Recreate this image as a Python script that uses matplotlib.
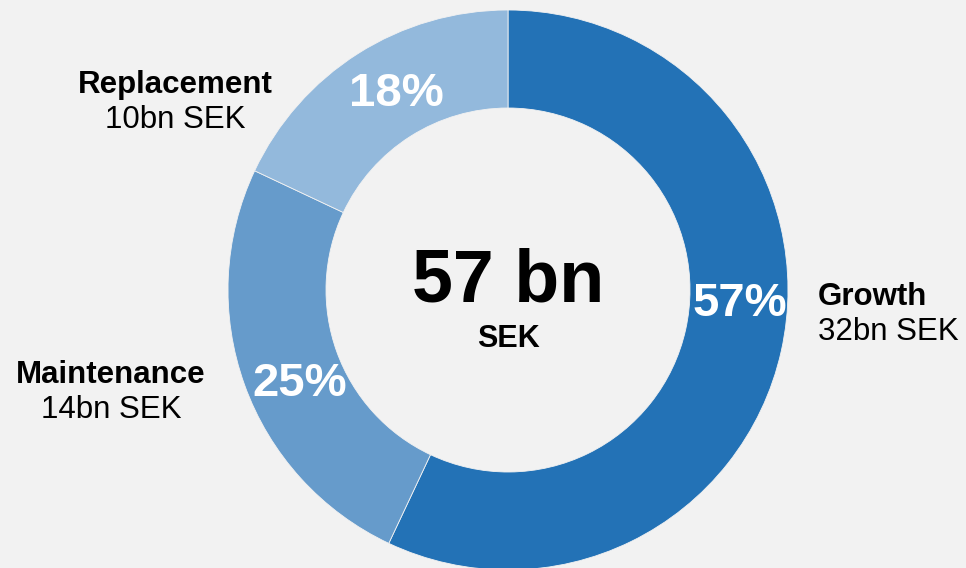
import matplotlib.pyplot as plt

# Данные
segments = ["Growth", "Maintenance", "Replacement"]
shares = [57, 25, 18]            # %
amounts = ["32bn SEK", "14bn SEK", "10bn SEK"]
colors = ["#2372b6", "#669bcb", "#93b9dc"]
total_value = "57 bn"
total_unit = "SEK"

plt.rcParams['font.family'] = ['Liberation Sans', 'DejaVu Sans']
bg = "#f2f2f2"

fig = plt.figure(figsize=(9.66, 5.68), dpi=100, facecolor=bg)
ax = fig.add_axes([0, 0, 1, 1])
ax.set_facecolor(bg)
ax.set_xlim(0, 966)
ax.set_ylim(0, 568)
ax.set_aspect('equal')
ax.axis('off')

# Кольцевая диаграмма
ax.pie(shares, colors=colors, startangle=90, counterclock=False,
       radius=280, center=(508, 278), frame=True,
       wedgeprops=dict(width=98, edgecolor=bg, linewidth=0.6))
ax.set_xlim(0, 966)
ax.set_ylim(0, 568)
ax.axis('off')

# Проценты внутри кольца
pct_pos = [(740, 252), (300, 172), (396, 462)]
for s, (x, y) in zip(shares, pct_pos):
    ax.text(x, y, f"{s}%", ha='center', va='baseline', color='white',
            fontsize=34, fontweight='bold')

# Подписи сегментов
lab_pos = [(818, 263, 'left'), (111, 185, 'center'), (175, 475, 'center')]
for name, amt, (x, y, ha) in zip(segments, amounts, lab_pos):
    ax.text(x, y, name, ha=ha, va='baseline', fontsize=22.5, fontweight='bold')
    ax.text(x, y - 35, amt, ha=ha, va='baseline', fontsize=22.5)

# Центр
ax.text(508, 266, total_value, ha='center', va='baseline',
        fontsize=53, fontweight='bold')
ax.text(508, 221, total_unit, ha='center', va='baseline',
        fontsize=22, fontweight='bold')

fig.savefig("out.png", dpi=100, facecolor=bg)
